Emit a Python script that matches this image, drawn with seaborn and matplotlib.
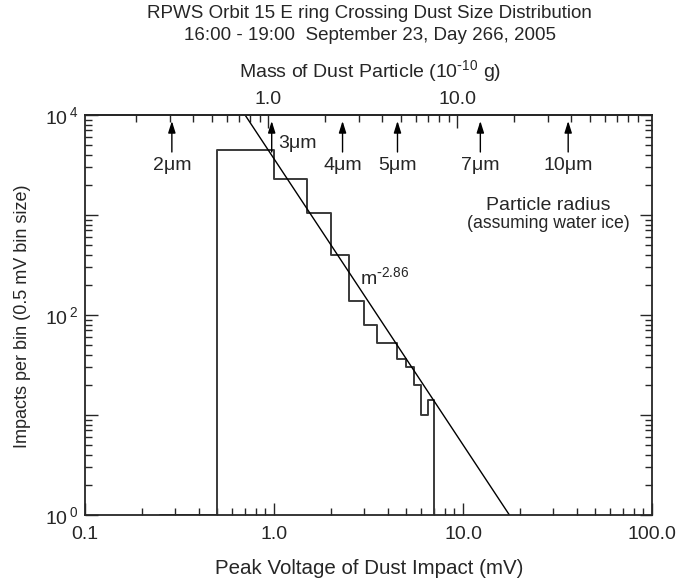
import numpy as np
import matplotlib
matplotlib.use("Agg")
import matplotlib.pyplot as plt
import seaborn as sns
from matplotlib.ticker import LogLocator, NullFormatter

# histogram of peak voltages (0.5 mV bins)
bin_edges = [0.25, 0.5, 1.0, 1.5, 2.0, 2.5, 3.0, 3.5, 4.0, 4.5, 5.0, 5.5, 6.0, 6.5, 7.0]
bin_counts = [1, 4470, 2270, 1040, 396, 137, 79, 52, 52, 36, 30, 20, 10, 14]

# power law fit  N = A * m^-2.86
fit_amp = 3650.0
fit_slope = -2.86
fit_range = [0.5, 20.0]

# particle radius markers (um) and conversions
radii = [2, 3, 4, 5, 7, 10]
radius_labels = ["2\u03bcm", "3\u03bcm", "4\u03bcm", "5\u03bcm", "7\u03bcm", "10\u03bcm"]
ice_density = 0.92          # g/cm^3
mass_per_mv = 1.07          # 1e-10 g per mV

x_ticks = [0.1, 1.0, 10.0, 100.0]
x_ticklabels = ["0.1", "1.0", "10.0", "100.0"]
y_ticks = [1, 10, 100, 1000, 10000]
y_ticklabels = ["$10^{\\,0}$", "", "$10^{\\,2}$", "", "$10^{\\,4}$"]
top_ticks = [1.0, 10.0]
top_ticklabels = ["1.0", "10.0"]

sns.set_style("ticks")
plt.rcParams['font.family'] = ['Liberation Sans', 'DejaVu Sans']
plt.rcParams['mathtext.default'] = 'regular'

W, H = 692, 583
fig = plt.figure(figsize=(W / 100, H / 100), dpi=100)
ax = fig.add_axes([85 / W, 1 - 515 / H, (652 - 85) / W, (515 - 115) / H])
ax.set_xscale("log")
ax.set_yscale("log")

# step histogram
step_x = np.array(bin_edges)
step_y = np.array(bin_counts + [1])
sns.lineplot(x=step_x, y=step_y, drawstyle="steps-post", estimator=None, sort=False,
             color="#3a3a3a", lw=1.4, ax=ax)

# fit line
fx = np.array(fit_range)
sns.lineplot(x=fx, y=fit_amp * fx ** fit_slope, estimator=None, sort=False,
             color="black", lw=1.0, ax=ax)

ax.set_xlim(0.1, 100)
ax.set_ylim(1, 1e4)
ax.set_xticks(x_ticks)
ax.set_xticklabels(x_ticklabels)
ax.xaxis.set_minor_locator(LogLocator(base=10, subs=np.arange(2, 10)))
ax.xaxis.set_minor_formatter(NullFormatter())
ax.set_yticks(y_ticks)
ax.set_yticklabels(y_ticklabels)
ax.yaxis.set_minor_locator(LogLocator(base=10, subs=np.arange(2, 10)))
ax.yaxis.set_minor_formatter(NullFormatter())
ax.tick_params(which="both", direction="in", right=True, top=False, width=1.0, labelsize=14)
ax.tick_params(which="major", length=9)
ax.tick_params(which="minor", length=5)
ax.tick_params(axis="x", pad=8)
ax.tick_params(axis="y", pad=5)
for s in ax.spines.values():
    s.set_visible(True)
    s.set_linewidth(1.3)

secax = ax.secondary_xaxis("top", functions=(lambda v: v * mass_per_mv, lambda m: m / mass_per_mv))
secax.set_xticks(top_ticks)
secax.set_xticklabels(top_ticklabels)
secax.xaxis.set_minor_locator(LogLocator(base=10, subs=np.arange(2, 10)))
secax.xaxis.set_minor_formatter(NullFormatter())
secax.tick_params(which="both", direction="in", width=1.0, labelsize=14, pad=5)
secax.tick_params(which="major", length=9)
secax.tick_params(which="minor", length=5)
secax.spines["top"].set_linewidth(1.3)

# radius arrows
trans = ax.get_xaxis_transform()
for r, lab in zip(radii, radius_labels):
    mass = 4.0 / 3.0 * np.pi * r ** 3 * ice_density * 1e-12 / 1e-10
    v = mass / mass_per_mv
    ax.annotate("", xy=(v, 0.985), xytext=(v, 0.9075), xycoords=trans, textcoords=trans,
                arrowprops=dict(arrowstyle="-|>,head_length=0.7,head_width=0.22",
                                color="black", lw=1.0, shrinkA=0, shrinkB=0))
    if r == 3:
        ax.annotate(lab, xy=(v, 0.93), xycoords=trans, xytext=(5, 0), textcoords="offset points",
                    ha="left", va="center", fontsize=14)
    else:
        ax.text(v, 0.875, lab, transform=trans, ha="center", va="center", fontsize=14)

ax.text(0.485, 0.595, r"m$^{\text{-}2.86}$", transform=ax.transAxes, ha="left", va="center", fontsize=14)
ax.text(0.8166, 0.7725, "Particle radius", transform=ax.transAxes,
        ha="center", va="center", fontsize=14)
ax.text(0.8166, 0.7275, "(assuming water ice)", transform=ax.transAxes,
        ha="center", va="center", fontsize=12.7)

ax.set_xlabel("")
ax.set_ylabel("")
fig.text(369.5 / W, 1 - 568 / H, "Peak Voltage of Dust Impact (mV)", ha="center", va="center", fontsize=14.8)
fig.text(23 / W, 1 - 316 / H, "Impacts per bin (0.5 mV bin size)", ha="center", va="center",
         rotation=90, fontsize=13)
fig.text(369.5 / W, 1 - 14 / H, "RPWS Orbit 15 E ring Crossing Dust Size Distribution",
         ha="center", va="center", fontsize=13.5)
fig.text(369.5 / W, 1 - 35 / H, "16:00 - 19:00  September 23, Day 266, 2005",
         ha="center", va="center", fontsize=13.5)
fig.text(370 / W, 1 - 71 / H, r"Mass of Dust Particle (10$^{\text{-}10}$ g)", ha="center", va="center", fontsize=14)

fig.savefig("out.png", dpi=100)
